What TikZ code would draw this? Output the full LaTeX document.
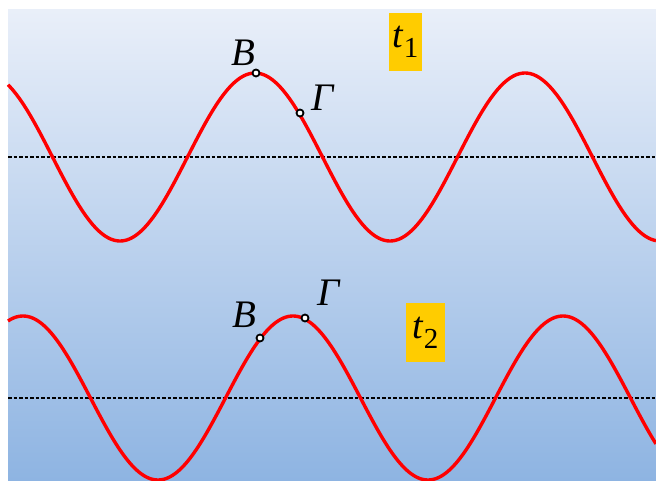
\documentclass[tikz,border=0pt]{standalone}
\usepackage{fontspec}
\setmainfont{Liberation Serif}
\usetikzlibrary{positioning}
\definecolor{skytop}{RGB}{233,239,249}
\definecolor{skybottom}{RGB}{142,180,226}
\definecolor{labelgold}{RGB}{255,204,0}
\newcommand{\tlabel}[1]{\fontsize{38}{40}\selectfont\textit{t}\raisebox{-10pt}{\fontsize{29}{30}\selectfont #1}}
\tikzset{
  wave/.style={red, line width=3.4pt, samples=300},
  midline/.style={black, line width=2.2pt, dash pattern=on 3.5pt off 2pt},
  pt/.style={circle, draw=black, fill=white, line width=1.8pt, inner sep=0pt, minimum size=7pt},
  ptlabel/.style={font=\fontsize{39}{42}\selectfont\itshape, inner sep=0pt},
  timebox/.style={fill=labelgold, inner sep=0pt, minimum height=58pt}
}
\begin{document}
\begin{tikzpicture}[x=1pt, y=1pt]
	\useasboundingbox (0,0) rectangle (656,480);
	\shade[top color=skytop, bottom color=skybottom] (8,0) rectangle (656,470);
	\draw[midline] (8,323) -- (656,323);
	\draw[midline] (8,82) -- (656,82);
	\draw[wave, domain=8:656] plot(\x,{323+84*cos((\x-255)*4/3)});
	\draw[wave, domain=8:656] plot(\x,{82+82*cos((\x-293)*4/3)});
	\node[pt] (B1) at (256,407) {};
	\node[pt] (G1) at (300,367) {};
	\node[pt] (B2) at (260,142) {};
	\node[pt] (G2) at (305,162) {};
	\node[ptlabel] (lB1) at ([shift={(-13,20)}]B1) {B};
	\node[ptlabel] (lG1) at ([shift={(23,15)}]G1) {Γ};
	\node[ptlabel] (lB2) at ([shift={(-16,23)}]B2) {B};
	\node[ptlabel] (lG2) at ([shift={(24,25)}]G2) {Γ};
	\node[timebox, minimum width=33pt] (t1) at (405.5,438) {\tlabel{1}};
	\node[timebox, minimum width=39pt, minimum height=59pt] (t2) at (425.5,147.5) {\tlabel{2}};
\end{tikzpicture}
\end{document}
